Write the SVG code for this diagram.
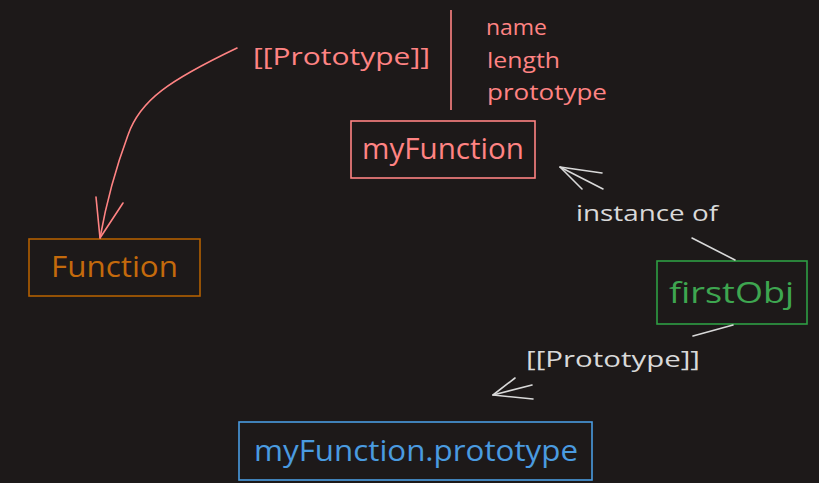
<svg xmlns="http://www.w3.org/2000/svg" width="819" height="483" viewBox="0 0 819 483">
<style>
text{font-family:"Open Sans","Liberation Sans",sans-serif;}
.box{fill:none;stroke-width:1.6;}
.pink{fill:#ff8383;}
.gray{fill:#d9d9d9;}
.conn{fill:none;stroke-linecap:round;stroke-linejoin:round;stroke-width:1.6;}
</style>
<rect width="819" height="483" fill="#1d1919"/>
<g id="function-node">
<rect class="box" x="29" y="239" width="171" height="57" stroke="#b35f00"/>
<text x="51" y="277" font-size="30" fill="#c46a0c" textLength="127" lengthAdjust="spacingAndGlyphs">Function</text>
</g>
<g id="myfunction-node">
<rect class="box" x="351" y="121" width="184" height="57" stroke="#ff8383"/>
<text class="pink" x="362" y="159" font-size="30" textLength="162" lengthAdjust="spacingAndGlyphs">myFunction</text>
</g>
<g id="props-node">
<line x1="451" y1="10" x2="451" y2="110" stroke="#ff8383" stroke-width="1.6"/>
<text class="pink" x="486" y="35" font-size="22" textLength="61" lengthAdjust="spacingAndGlyphs">name</text>
<text class="pink" x="487" y="68" font-size="22" textLength="73" lengthAdjust="spacingAndGlyphs">length</text>
<text class="pink" x="487" y="100" font-size="22" textLength="120" lengthAdjust="spacingAndGlyphs">prototype</text>
</g>
<g id="firstobj-node">
<rect class="box" x="657" y="261" width="150" height="63" stroke="#2f9e44"/>
<text x="669" y="303" font-size="30" fill="#3ea650" textLength="125" lengthAdjust="spacingAndGlyphs">firstObj</text>
</g>
<g id="prototype-node">
<rect class="box" x="239" y="422" width="353" height="58" stroke="#4a9be0"/>
<text x="254" y="461" font-size="30" fill="#4a9be0" textLength="324" lengthAdjust="spacingAndGlyphs">myFunction.prototype</text>
</g>
<g id="connectors">
<path class="conn" stroke="#ff8383" d="M237,48 C170,80 140,100 128,135 C115,170 105,210 100,238"/>
<polyline class="conn" stroke="#ff8383" points="96,197 100,238 123,203"/>
<text class="pink" x="253" y="65" font-size="23" textLength="177" lengthAdjust="spacingAndGlyphs">[[Prototype]]</text>
<line class="conn" stroke="#d9d9d9" x1="735" y1="260" x2="692" y2="238"/>
<line class="conn" stroke="#d9d9d9" x1="603" y1="189" x2="560" y2="167"/>
<polyline class="conn" stroke="#d9d9d9" points="602,173 560,167 582,189"/>
<text class="gray" x="576" y="221" font-size="22" textLength="142" lengthAdjust="spacingAndGlyphs">instance of</text>
<line class="conn" stroke="#d9d9d9" x1="733" y1="325" x2="693" y2="336"/>
<line class="conn" stroke="#d9d9d9" x1="532" y1="385" x2="493" y2="395"/>
<polyline class="conn" stroke="#d9d9d9" points="515,378 493,395 533,399"/>
<text class="gray" x="526" y="367" font-size="22" textLength="174" lengthAdjust="spacingAndGlyphs">[[Prototype]]</text>
</g>
</svg>
